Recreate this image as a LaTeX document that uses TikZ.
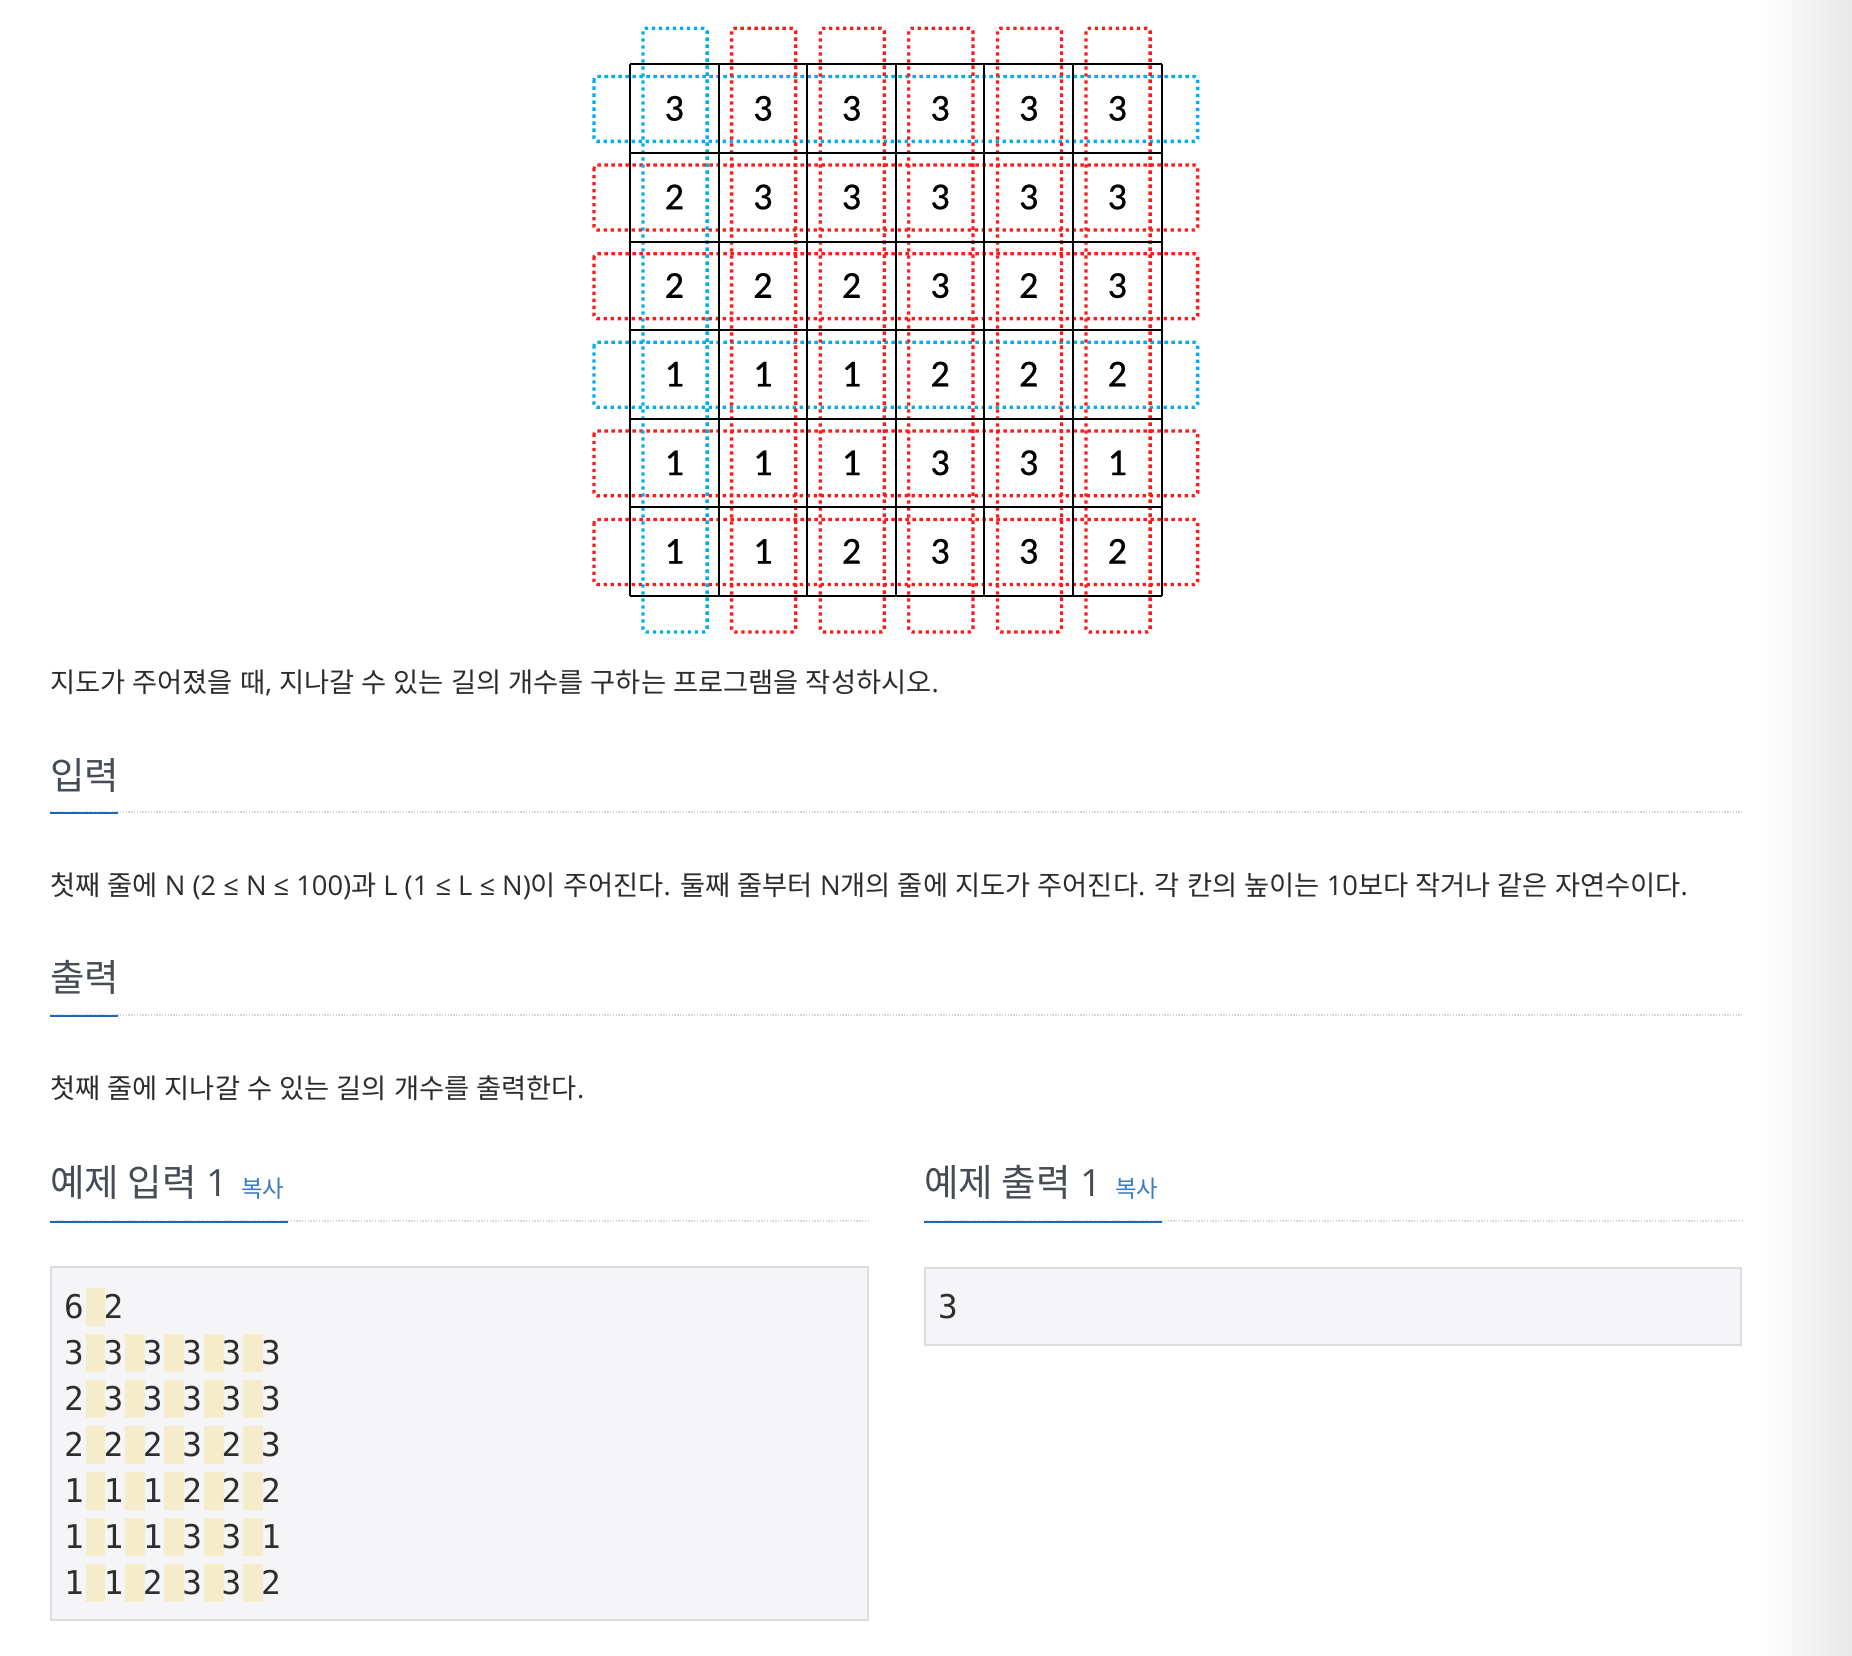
\documentclass[tikz,border=0pt]{standalone}
\usepackage{fontspec}
\newfontfamily\kofont{Noto Sans CJK KR}
\newfontfamily\osfont{Open Sans}
\newfontfamily\carfont[FakeBold=0.6]{Carlito}
\newfontfamily\monofont{DejaVu Sans Mono}
\definecolor{bodytxt}{HTML}{2C2C2C}
\definecolor{headtxt}{HTML}{464C55}
\definecolor{ulblue}{HTML}{1D66B8}
\definecolor{copyblue}{HTML}{3A7BC4}
\definecolor{divgray}{HTML}{D3D8DE}
\definecolor{boxfill}{HTML}{F5F5F7}
\definecolor{boxline}{HTML}{DCDCE1}
\definecolor{hlcol}{HTML}{F5ECC9}
\definecolor{pblue}{HTML}{00AEEF}
\definecolor{pred}{HTML}{FF1A1A}
\newcommand\K[1]{{\kofont #1}}
\tikzset{
  pathdot/.style={line width=3.3, dash pattern=on 3.3 off 3.7, rounded corners=3},
  gridline/.style={line width=2, black},
  gridnum/.style={inner sep=0, font=\carfont\fontsize{38}{42}\selectfont, text height=24pt, text depth=0pt},
  body/.style={inner sep=0, anchor=base west, text=bodytxt, font=\osfont\fontsize{27.3}{32}\selectfont},
  head/.style={inner sep=0, anchor=base west, text=headtxt, font=\osfont\fontsize{37.5}{42}\selectfont},
  copylink/.style={inner sep=0, anchor=base west, text=copyblue, font=\kofont\fontsize{23.5}{28}\selectfont},
  divline/.style={divgray, line width=1.3, dash pattern=on 1.4 off 1.4},
  ulline/.style={ulblue, line width=2.8},
  codebox/.style={fill=boxfill, draw=boxline, line width=2},
  codechar/.style={inner sep=0, anchor=base west, text=black!82, font=\monofont\fontsize{32.7}{40}\selectfont},
}
\begin{document}
\begin{tikzpicture}[x=1pt, y=-1pt]
\useasboundingbox (0,0) rectangle (1852,1656);
\fill[white] (0,0) rectangle (1852,1656);
\shade[left color=white, right color=black!9] (1758,0) rectangle (1852,1656);

% ---------- grid figure ----------
\def\gx{630}\def\gy{64.3}\def\cellw{88.6}
\foreach \i/\col in {0/pblue,1/pred,2/pred,3/pblue,4/pred,5/pred}
  \draw[pathdot, draw=\col] ({\gx-36}, {\gy+\i*\cellw+12.2}) rectangle ({\gx+6*\cellw+36}, {\gy+(\i+1)*\cellw-11.5});
\foreach \j/\col in {0/pblue,1/pred,2/pred,3/pred,4/pred,5/pred}
  \draw[pathdot, draw=\col] ({\gx+\j*\cellw+13}, {\gy-36}) rectangle ({\gx+(\j+1)*\cellw-11.5}, {\gy+6*\cellw+36});
\foreach \k in {0,...,6} {
  \draw[gridline] ({\gx+\k*\cellw}, \gy) -- ({\gx+\k*\cellw}, {\gy+6*\cellw});
  \draw[gridline] (\gx, {\gy+\k*\cellw}) -- ({\gx+6*\cellw}, {\gy+\k*\cellw});
}
\foreach \row [count=\i from 0] in {{3,3,3,3,3,3},{2,3,3,3,3,3},{2,2,2,3,2,3},{1,1,1,2,2,2},{1,1,1,3,3,1},{1,1,2,3,3,2}}
  \foreach \v [count=\j from 0] in \row
    \node[gridnum] (n\i\j) at ({\gx+(\j+0.5)*\cellw}, {\gy+(\i+0.5)*\cellw}) {\v};

% ---------- text ----------
\node[body] (s1) at (50,692) {\K{지도가} \K{주어졌을} \K{때}, \K{지나갈} \K{수} \K{있는} \K{길의} \K{개수를} \K{구하는} \K{프로그램을} \K{작성하시오}.};

\node[head] (h1) at (50,789) {\K{입력}};
\draw[divline] (50,812) -- (1742,812);
\draw[ulline] (50,813) -- (117.7,813);

\node[body] (s2) at (50,895) {\K{첫째} \K{줄에} N (2 ≤ N ≤ 100)\K{과} L (1 ≤ L ≤ N)\K{이} \K{주어진다}. \K{둘째} \K{줄부터} N\K{개의} \K{줄에} \K{지도가} \K{주어진다}. \K{각} \K{칸의} \K{높이는} 10\K{보다} \K{작거나} \K{같은} \K{자연수이다}.};

\node[head] (h2) at (50,991) {\K{출력}};
\draw[divline] (50,1015) -- (1742,1015);
\draw[ulline] (50,1016) -- (117.7,1016);

\node[body] (s3) at (50,1098.5) {\K{첫째} \K{줄에} \K{지나갈} \K{수} \K{있는} \K{길의} \K{개수를} \K{출력한다}.};

% ---------- sample input ----------
\node[head] (h3) at (50,1196) {\K{예제 입력} 1};
\node[copylink] (c3) at (241,1197) {복사};
\draw[divline] (50,1221) -- (869,1221);
\draw[ulline] (50,1222) -- (287.7,1222);

\draw[codebox] (51,1267) rectangle (868,1620);
\def\adv{19.69}
\foreach \row [count=\k from 0] in {{6,2},{3,3,3,3,3,3},{2,3,3,3,3,3},{2,2,2,3,2,3},{1,1,1,2,2,2},{1,1,1,3,3,1},{1,1,2,3,3,2}} {
  \foreach \v [count=\j from 0] in \row {
    \ifnum\j>0
      \fill[hlcol] ({66+(2*\j-1)*\adv}, {1306.8+46*\k-19.2}) rectangle ({66+2*\j*\adv}, {1306.8+46*\k+19.2});
    \fi
    \node[codechar] (d\k\j) at ({64+2*\j*\adv}, {1318.5+46*\k}) {\v};
  }
}

% ---------- sample output ----------
\node[head] (h4) at (924,1196) {\K{예제 출력} 1};
\node[copylink] (c4) at (1115,1197) {복사};
\draw[divline] (924,1221) -- (1742,1221);
\draw[ulline] (924,1222) -- (1161.7,1222);

\draw[codebox] (925,1267.5) rectangle (1741,1344.5);
\node[codechar] (o1) at (938,1318.5) {3};
\end{tikzpicture}
\end{document}
